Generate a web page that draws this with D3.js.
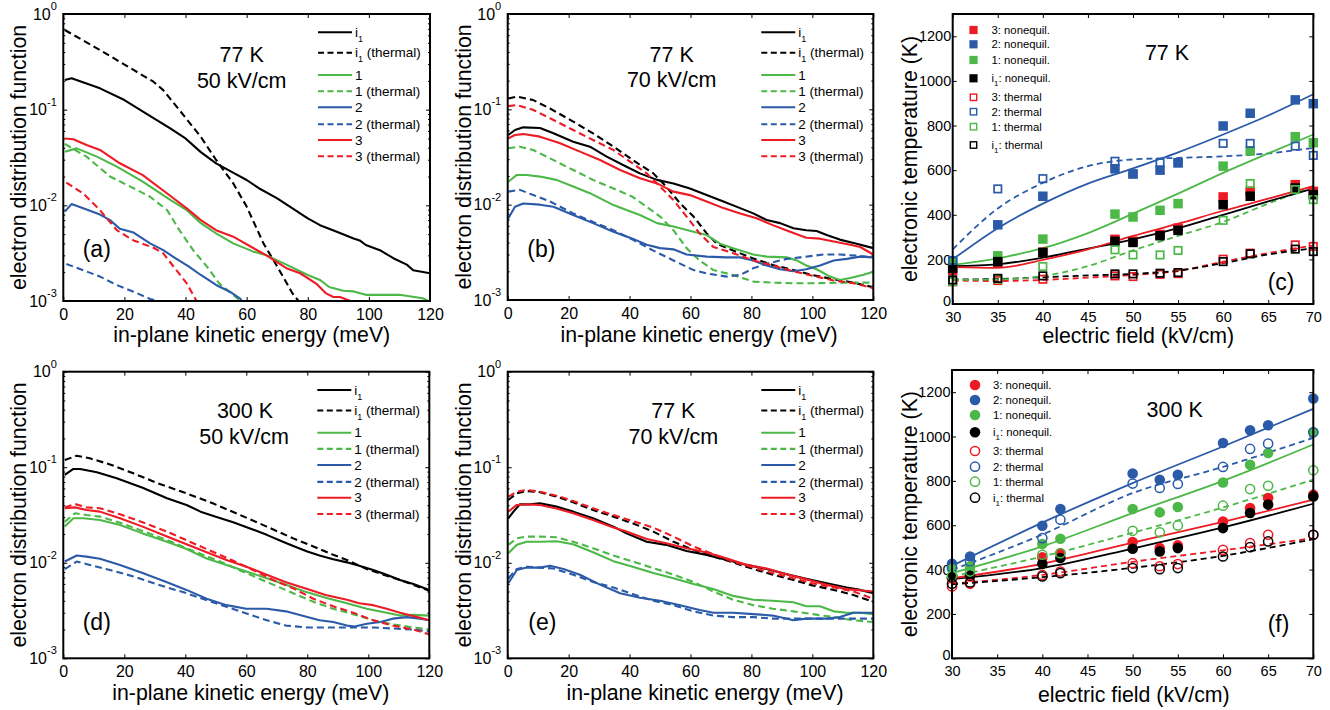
<!DOCTYPE html>
<html><head><meta charset="utf-8">
<script src="https://cdn.jsdelivr.net/npm/d3@7"></script>
<style>
body{margin:0;background:#fff}
svg{display:block}
text{font-family:"Liberation Sans",Arial,Helvetica,sans-serif;fill:#000}
</style></head>
<body><svg id="chart" width="1330" height="710"></svg>
<script>
// ---------------- DATA ----------------
const energyTicks = [0, 20, 40, 60, 80, 100, 120];
const fMajor = [1e-3, 1e-2, 1e-1, 1];
const fieldTicks = [30, 35, 40, 45, 50, 55, 60, 65, 70];
const tempTicks = [0, 200, 400, 600, 800, 1000, 1200];
const legendLabels = ["i1", "i1 (thermal)", "1", "1 (thermal)", "2", "2 (thermal)", "3", "3 (thermal)"];
const markerLabels = ["3: nonequil.", "2: nonequil.", "1: nonequil.", "i1: nonequil.", "3: thermal", "2: thermal", "1: thermal", "i1: thermal"];

// (a) 77 K, 50 kV/cm  [energy meV, distribution]
const a_i1 = [[0.5,0.204],[2.7,0.213],[12,0.167],[20,0.126],[27,0.0916],[35,0.0638],[40,0.050],[45,0.036],[50,0.0275],[56,0.0216],[60,0.0184],[64,0.0151],[70,0.0118],[75,0.0093],[80,0.0073],[84,0.0062],[89.5,0.0053],[95,0.0045],[97,0.0043],[99,0.00385],[103.6,0.0034],[108,0.0028],[112.4,0.0024],[114.5,0.0021],[120,0.00195]];
const a_i1_th = [[0.5,0.68],[12,0.42],[23,0.26],[29.5,0.196],[32.7,0.16],[38,0.099],[45,0.052],[50,0.0298],[55.6,0.017],[60,0.0097],[65.5,0.004],[70,0.0023],[75,0.0012],[77,0.001],[78,0.0009]];
const a_1 = [[0.5,0.0364],[4.4,0.0394],[11,0.0323],[17.5,0.0254],[26,0.0177],[35,0.0114],[40.4,0.0089],[45,0.0065],[50,0.0051],[55.6,0.004],[62,0.0033],[66.5,0.003],[73,0.0024],[80,0.00187],[84,0.00166],[87,0.0014],[91.6,0.00128],[95,0.00126],[99,0.00116],[110,0.00116],[117.6,0.00107],[119.5,0.001],[120,0.00098]];
const a_1_th = [[0.5,0.0438],[7.6,0.0323],[15.3,0.02],[23,0.0151],[28.4,0.0123],[34,0.0089],[38,0.0055],[42.5,0.0034],[47,0.00229],[51,0.00153],[55.6,0.00116],[58,0.001],[58.5,0.00095]];
const a_2 = [[0.5,0.0086],[2.7,0.0103],[6.5,0.0093],[12,0.008],[15.3,0.007],[18.5,0.0057],[23,0.0052],[28.4,0.004],[32.7,0.0034],[36,0.0029],[41,0.0023],[45,0.00187],[50,0.00147],[54.5,0.00125],[58,0.00105],[58.4,0.001],[59,0.00095]];
const a_2_th = [[1,0.00244],[6.5,0.0021],[12,0.0018],[17.5,0.00147],[23,0.00125],[28.4,0.00105],[31,0.001],[32,0.00095]];
const a_3 = [[0.5,0.050],[3.3,0.049],[7.6,0.0427],[12,0.0379],[18.5,0.0275],[26,0.0207],[34,0.0133],[40.4,0.0093],[45,0.007],[50,0.0055],[55.6,0.0047],[62,0.0036],[66.5,0.003],[73,0.0022],[77.5,0.00195],[83,0.0015],[86,0.0012],[88.4,0.0011],[90.5,0.0011],[94,0.001],[95,0.00095]];
const a_3_th = [[1,0.0173],[6.5,0.0133],[12,0.0089],[17.5,0.0055],[23,0.0043],[29.5,0.0036],[32.7,0.00315],[37,0.0021],[40.4,0.00153],[43.6,0.001],[44,0.00095]];

// (b) 77 K, 70 kV/cm
const b_i1 = [[0.2,0.0538],[2.4,0.0607],[5.1,0.0647],[10.6,0.0636],[15,0.056],[21.5,0.0458],[27,0.0406],[32.5,0.0319],[39,0.025],[43.4,0.0213],[49,0.0182],[54.4,0.0167],[59.8,0.0148],[65.3,0.0126],[70.8,0.0108],[76.3,0.0092],[80.6,0.0081],[85,0.0069],[89.4,0.0064],[93.8,0.00565],[98,0.0054],[101.4,0.0053],[104.7,0.0048],[109,0.0043],[114.5,0.0039],[120,0.0035]];
const b_i1_th = [[0.2,0.13],[3,0.136],[8.4,0.125],[13.9,0.102],[21.5,0.0743],[28,0.056],[34.7,0.0406],[41,0.0294],[47.8,0.0213],[52,0.0155],[56.6,0.0103],[61,0.0075],[65.3,0.005],[68.6,0.0039],[74,0.0033],[80.6,0.00273],[87,0.00233],[93.8,0.00206],[100,0.00183],[107,0.00165],[113.5,0.00152],[120,0.00136]];
const b_1 = [[0.2,0.0174],[3,0.0205],[6.2,0.0205],[10.6,0.0197],[16,0.0182],[21.5,0.0155],[27,0.0132],[34.7,0.0099],[39,0.0088],[43.4,0.0078],[49,0.0064],[54.4,0.0059],[61,0.0052],[65.3,0.0048],[69.7,0.0039],[74,0.0035],[80.6,0.003],[85,0.00285],[91.6,0.0028],[94.9,0.0026],[98,0.0023],[101.4,0.0021],[105.8,0.00176],[109,0.00162],[112.4,0.0017],[116.8,0.00184],[120,0.00198]];
const b_1_th = [[0.2,0.039],[4,0.0406],[8.4,0.0374],[13.9,0.0306],[21.5,0.0231],[28,0.0182],[34.7,0.0148],[41,0.0121],[45.6,0.0095],[50,0.0075],[54.4,0.0054],[58.7,0.0035],[63,0.0026],[67.5,0.00206],[74,0.00183],[80.6,0.00156],[87,0.00152],[93.8,0.0015],[100,0.0015],[109,0.00152],[120,0.00152]];
const b_2 = [[0.2,0.0072],[2.4,0.0095],[5.1,0.0103],[10.6,0.01],[15,0.0095],[21.5,0.0078],[28,0.0064],[34.7,0.0052],[41,0.0044],[45.6,0.0038],[50,0.0035],[54.4,0.0034],[58.7,0.003],[65.3,0.00285],[71.9,0.0028],[76.3,0.0028],[80.6,0.0026],[85,0.0023],[89.4,0.0021],[93.8,0.002],[98,0.0021],[102.5,0.0023],[107,0.0026],[111.3,0.0027],[115.7,0.00285],[120,0.0028]];
const b_2_th = [[0.2,0.0137],[4,0.0143],[8.4,0.0126],[13.9,0.0108],[21.5,0.0081],[28,0.0066],[34.7,0.0054],[41,0.0043],[47.8,0.0033],[54.4,0.0026],[61,0.00206],[65.3,0.0019],[71.9,0.00176],[76.3,0.00183],[80.6,0.00215],[85,0.0024],[91.6,0.0027],[96,0.0028],[103.6,0.003],[109,0.003],[115.7,0.0029],[120,0.0028]];
const b_3 = [[0.2,0.0496],[2.4,0.0538],[5.1,0.055],[10.6,0.0517],[17.2,0.044],[23.7,0.036],[30.3,0.0294],[36.9,0.0231],[43.4,0.0189],[49,0.0167],[54.4,0.0137],[59.8,0.0126],[65.3,0.0108],[70.8,0.0092],[76.3,0.0081],[81.7,0.0072],[87,0.0061],[92.7,0.0052],[98,0.0045],[102.5,0.0044],[107,0.0041],[112.4,0.0038],[115.7,0.0036],[120,0.003]];
const b_3_th = [[0.2,0.108],[3,0.111],[8.4,0.0985],[13.9,0.0805],[21.5,0.0607],[28,0.0477],[34.7,0.0374],[41,0.0271],[45.6,0.0213],[50,0.0155],[54.4,0.0112],[58.7,0.0075],[63,0.005],[67.5,0.0036],[74,0.0031],[80.6,0.0026],[87,0.0023],[93.8,0.002],[100,0.0018],[107,0.0016],[113.5,0.0015],[120,0.00133]];

// (d) 300 K, 50 kV/cm
const d_i1 = [[0.5,0.083],[3.3,0.096],[5.5,0.096],[11,0.0885],[17.5,0.0765],[26,0.061],[34,0.0473],[40.4,0.0403],[45,0.0343],[50,0.0304],[55.7,0.0265],[61,0.023],[66.7,0.0196],[72,0.0166],[75.4,0.015],[80,0.0131],[84,0.0119],[88.5,0.0109],[93,0.0101],[97,0.0093],[101.6,0.0084],[106,0.0075],[110.4,0.0066],[114.8,0.006],[120,0.0052]];
const d_i1_th = [[0.5,0.119],[4.4,0.132],[8.7,0.124],[15.3,0.107],[23,0.0863],[31,0.0679],[40.4,0.0533],[49,0.0419],[58,0.0316],[66.7,0.0239],[75.4,0.018],[82,0.0148],[88.5,0.0121],[93,0.0107],[99.5,0.0086],[105,0.0075],[110.4,0.0066],[120,0.0051]];
const d_1 = [[0.5,0.0239],[3.3,0.0292],[6.6,0.0292],[12,0.028],[18.6,0.0249],[26,0.0203],[34,0.0166],[40.4,0.0139],[47,0.0111],[53.5,0.0095],[60,0.0081],[66.7,0.0069],[73,0.0059],[80,0.0049],[86,0.0043],[93,0.00377],[99.5,0.0033],[106,0.003],[110.4,0.0028],[114.8,0.00285],[120,0.0028]];
const d_1_th = [[0.5,0.0269],[3.8,0.033],[7.6,0.0316],[12,0.0304],[18.6,0.0263],[26,0.0215],[34,0.0173],[42.6,0.0133],[51.4,0.0103],[60,0.0078],[68.8,0.0059],[75.4,0.0048],[82,0.0039],[88.5,0.0033],[95,0.0029],[101.6,0.0025],[108,0.00227],[114.8,0.0021],[120,0.002]];
const d_2 = [[0.5,0.0103],[4.4,0.0119],[7.6,0.0116],[12,0.011],[18.6,0.0095],[26,0.0078],[34,0.00625],[40.4,0.0052],[47,0.0042],[53.5,0.0036],[60,0.0033],[66.7,0.0033],[73,0.0031],[80,0.0027],[84,0.0025],[88.5,0.0024],[93,0.0022],[95.6,0.00215],[99.5,0.0023],[104,0.0024],[108,0.0026],[112.6,0.0027],[117,0.0026],[120,0.0025]];
const d_2_th = [[0.5,0.0086],[4.4,0.0103],[8.7,0.0095],[15.3,0.0084],[23,0.0072],[31,0.0059],[40.4,0.0048],[49,0.00386],[58,0.0031],[66.7,0.0025],[73,0.0022],[80,0.0021],[88.5,0.0021],[95,0.0021],[101.6,0.0021],[108,0.00205],[114.8,0.002],[120,0.0019]];
const d_3 = [[0.5,0.0372],[3.8,0.038],[7.6,0.0357],[12,0.0343],[18.6,0.0292],[26,0.0239],[34,0.0188],[40.4,0.0156],[47,0.0129],[53.5,0.0107],[60,0.0091],[66.7,0.0075],[73,0.00625],[80,0.0053],[86,0.0046],[93,0.0041],[97,0.00377],[101.6,0.0036],[106,0.0033],[110.4,0.003],[116,0.0027],[120,0.0025]];
const d_3_th = [[0.5,0.038],[3.8,0.0412],[7.6,0.038],[12,0.0372],[18.6,0.0322],[26,0.0265],[34,0.0212],[42.6,0.016],[51.4,0.0121],[60,0.0091],[68.8,0.0066],[75.4,0.0054],[82,0.0042],[88.5,0.0035],[95,0.003],[101.6,0.0025],[108,0.0022],[114.8,0.002],[120,0.00178]];

// (e) 77 K, 70 kV/cm
const e_i1 = [[0.2,0.0292],[1.9,0.0343],[4,0.0409],[7.3,0.0409],[10.6,0.0419],[16,0.0387],[21.5,0.0343],[28,0.0292],[34.7,0.0239],[39,0.0203],[45.6,0.0166],[52,0.0154],[58.7,0.0133],[65.3,0.0121],[72,0.0107],[78.5,0.0095],[85,0.0086],[91.6,0.0076],[98,0.0068],[104.7,0.0061],[111.3,0.0055],[115.7,0.0052],[120,0.0048]];
const e_i1_th = [[0.2,0.0454],[3,0.0533],[6.2,0.0564],[10.6,0.0548],[16,0.0492],[21.5,0.043],[28,0.0357],[34.7,0.0304],[41,0.0259],[47.8,0.0212],[54.4,0.0166],[61,0.0136],[67.5,0.0116],[74,0.0101],[80.6,0.0086],[87,0.0075],[93.8,0.0066],[100,0.0058],[107,0.0052],[113.5,0.0046],[120,0.0039]];
const e_1 = [[0.2,0.0126],[3,0.0154],[6.2,0.0166],[10.6,0.0166],[16,0.0168],[21.5,0.0156],[28,0.0129],[34.7,0.0104],[41,0.0091],[47.8,0.0078],[54.4,0.0069],[61,0.006],[67.5,0.0053],[74,0.0045],[80.6,0.0041],[87,0.004],[93.8,0.00386],[98,0.0035],[102.5,0.0035],[107,0.0031],[111.3,0.003],[115.7,0.003],[120,0.0029]];
const e_1_th = [[0.2,0.0154],[3,0.018],[6.2,0.0188],[10.6,0.0188],[16,0.0185],[21.5,0.0166],[28,0.0142],[34.7,0.0119],[41,0.0103],[47.8,0.0088],[54.4,0.0075],[61,0.0063],[67.5,0.005],[74,0.0041],[80.6,0.0036],[87,0.0033],[93.8,0.0031],[100,0.0029],[107,0.0027],[113.5,0.0025],[120,0.0024]];
const e_2 = [[0.2,0.0061],[3,0.0084],[6.2,0.0089],[10.6,0.0089],[13.9,0.0093],[18.3,0.0086],[23.7,0.0075],[30.3,0.0059],[36.9,0.0048],[43.4,0.0043],[50,0.004],[56.6,0.0036],[63,0.0032],[67.5,0.003],[74,0.003],[80.6,0.0029],[87,0.0028],[93.8,0.0025],[98,0.0026],[104.7,0.0026],[109,0.0027],[113.5,0.003],[120,0.003]];
const e_2_th = [[0.2,0.0069],[3,0.0086],[6.2,0.0091],[10.6,0.0089],[15,0.0087],[21.5,0.0075],[28,0.0063],[34.7,0.0055],[41,0.0047],[47.8,0.004],[54.4,0.0036],[61,0.0031],[67.5,0.0028],[74,0.0027],[80.6,0.0027],[87,0.0026],[93.8,0.0026],[100,0.0026],[107,0.0026],[113.5,0.0026],[120,0.0026]];
const e_3 = [[0.2,0.0343],[3,0.0403],[6.2,0.0409],[10.6,0.0403],[16,0.037],[21.5,0.033],[28,0.028],[34.7,0.0234],[39,0.0212],[45.6,0.0177],[52,0.016],[58.7,0.0142],[65.3,0.0128],[72,0.0111],[78.5,0.0095],[85,0.0087],[91.6,0.0076],[98,0.0067],[104.7,0.0059],[111.3,0.0053],[120,0.005]];
const e_3_th = [[0.2,0.0492],[3,0.0555],[6.2,0.0578],[10.6,0.0555],[16,0.0504],[21.5,0.0443],[28,0.0372],[34.7,0.0316],[41,0.0274],[47.8,0.0233],[54.4,0.0188],[61,0.0148],[67.5,0.0123],[74,0.0103],[80.6,0.0089],[87,0.0078],[93.8,0.0069],[100,0.0061],[107,0.0055],[113.5,0.005],[120,0.0042]];

// (c) 77 K electronic temperature (K) vs field (kV/cm)
const fields77 = [30, 35, 40, 48, 50, 53, 55, 60, 63, 68, 70];
const c_neq3  = [150, 183, 232, 290, 282, 312, 340, 480, 505, 535, 505];
const c_neq2  = [190, 355, 483, 606, 583, 600, 633, 798, 855, 915, 898];
const c_neq1  = [183, 216, 291, 403, 390, 420, 450, 618, 686, 750, 723];
const c_neqi1 = [160, 190, 231, 281, 276, 306, 330, 445, 483, 520, 490];
const c_th3   = [100, 105, 111, 126, 123, 133, 136, 201, 228, 265, 258];
const c_th2   = [195, 516, 562, 640, 583, 633, 633, 720, 720, 708, 666];
const c_th1   = [100, 112, 168, 243, 220, 220, 240, 375, 540, 513, 468];
const c_thi1  = [108, 115, 126, 135, 135, 138, 141, 190, 225, 246, 235];
const fitFields77 = [30, 35, 40, 45, 50, 55, 60, 65, 70];
const c_fit3   = [165, 162, 198, 245, 305, 360, 418, 472, 528];
const c_fit2   = [200, 340, 450, 540, 608, 680, 760, 845, 940];
const c_fit1   = [175, 205, 250, 318, 405, 495, 588, 675, 760];
const c_fiti1  = [170, 178, 208, 248, 290, 340, 400, 460, 518];
const c_fit3t  = [105, 103, 108, 118, 130, 148, 190, 228, 262];
const c_fit2t  = [245, 428, 543, 618, 648, 655, 662, 675, 700];
const c_fit1t  = [108, 110, 125, 170, 240, 305, 368, 450, 525];
const c_fiti1t = [110, 112, 120, 128, 135, 150, 183, 222, 250];

// (f) 300 K
const fields300 = [30, 32, 40, 42, 50, 53, 55, 60, 63, 65, 70];
const f_neq3  = [361, 369, 455, 474, 524, 497, 509, 617, 678, 723, 738];
const f_neq2  = [426, 459, 598, 673, 833, 805, 828, 971, 1028, 1051, 1171];
const f_neq1  = [402, 414, 515, 539, 673, 658, 682, 793, 873, 926, 1019];
const f_neqi1 = [366, 372, 426, 452, 494, 482, 497, 587, 655, 693, 730];
const f_th3   = [324, 336, 376, 391, 429, 415, 425, 489, 520, 557, 557];
const f_th2   = [411, 437, 542, 625, 788, 768, 786, 863, 944, 968, 1019];
const f_th1   = [372, 391, 467, 474, 575, 568, 599, 688, 763, 778, 848];
const f_thi1  = [336, 342, 369, 384, 407, 402, 407, 459, 501, 527, 557];
const fitFields300 = [30, 40, 50, 60, 70];
const f_fit3   = [361, 426, 522, 615, 715];
const f_fit2   = [417, 612, 790, 955, 1125];
const f_fit1   = [384, 505, 655, 800, 964];
const f_fiti1  = [357, 407, 495, 590, 697];
const f_fit3t  = [336, 376, 435, 487, 542];
const f_fit2t  = [399, 558, 745, 863, 994];
const f_fit1t  = [369, 459, 566, 680, 806];
const f_fiti1t = [334, 366, 408, 462, 537];

// ---------------- STYLE / LAYOUT ----------------
const FONT = '"Liberation Sans", Arial, Helvetica, sans-serif';
const K = "#000000", G = "#4cb848", B = "#2b5ba8", R = "#ed1c24";
const DASH = "7,4";
const svg = d3.select("#chart");
const defs = svg.append("defs");

function axisG(g, axis, tx, ty, fs) {
  const s = g.append("g").attr("transform", `translate(${tx},${ty})`).call(axis);
  s.select(".domain").remove();
  s.attr("font-family", FONT);
  if (fs) s.attr("font-size", fs);
  s.selectAll("line").attr("stroke", "#000");
  return s;
}

function subLabel(sel, label, subSize, subDy) {
  if (label.startsWith("i1")) {
    sel.text("i");
    sel.append("tspan").attr("font-size", subSize).attr("dy", subDy).text("1");
    const rest = label.slice(2);
    if (rest.length) sel.append("tspan").attr("dy", -subDy).text(rest.replace(/^ /, "\u00a0"));
  } else sel.text(label);
}

function drawDist(p) {
  const x = d3.scaleLinear().domain([0, 120]).range([p.left, p.right]);
  const y = d3.scaleLog().domain([1e-3, 1]).range([p.bottom, p.top]);
  const g = svg.append("g");
  defs.append("clipPath").attr("id", "clip" + p.id).append("rect")
    .attr("x", p.left).attr("y", p.top).attr("width", p.right - p.left).attr("height", p.bottom - p.top);
  const minors = [];
  for (let e = -3; e < 0; e++) for (let m = 2; m <= 9; m++) minors.push(m * Math.pow(10, e));

  axisG(g, d3.axisBottom(x).tickValues(energyTicks).tickSizeInner(-4).tickSizeOuter(0).tickPadding(7.6).tickFormat(d3.format("d")), 0, p.bottom, 16);
  axisG(g, d3.axisTop(x).tickValues(energyTicks).tickSizeInner(-4).tickSizeOuter(0).tickFormat(""), 0, p.top);
  axisG(g, d3.axisLeft(y).tickValues(fMajor).tickSizeInner(-4).tickSizeOuter(0).tickFormat(""), p.left, 0);
  axisG(g, d3.axisRight(y).tickValues(fMajor).tickSizeInner(-4).tickSizeOuter(0).tickFormat(""), p.right, 0);
  axisG(g, d3.axisLeft(y).tickValues(minors).tickSizeInner(-2).tickSizeOuter(0).tickFormat(""), p.left, 0);
  axisG(g, d3.axisRight(y).tickValues(minors).tickSizeInner(-2).tickSizeOuter(0).tickFormat(""), p.right, 0);

  fMajor.forEach(v => {
    const t = g.append("text").attr("x", p.left - 6.5).attr("y", y(v) + 5.5)
      .attr("text-anchor", "end").attr("font-size", 16).text("10");
    t.append("tspan").attr("font-size", 11).attr("dy", -9.5).text(String(Math.round(Math.log10(v))));
  });

  const line = d3.line().x(d => x(d[0])).y(d => y(d[1]));
  const lg = g.append("g").attr("clip-path", `url(#clip${p.id})`);
  p.series.forEach(s => {
    lg.append("path").attr("d", line(s.data)).attr("fill", "none")
      .attr("stroke", s.color).attr("stroke-width", 2.1)
      .attr("stroke-dasharray", s.dash ? DASH : null)
      .attr("stroke-linejoin", "round");
  });

  g.append("rect").attr("x", p.left).attr("y", p.top).attr("width", p.right - p.left)
    .attr("height", p.bottom - p.top).attr("fill", "none").attr("stroke", "#000").attr("stroke-width", 2);

  const rows = [18.3, 38.8, 61, 77.2, 93.3, 110.2, 126, 142.3];
  p.series.forEach((s, i) => {
    const ry = p.top + rows[i];
    g.append("line").attr("x1", p.right - 112).attr("x2", p.right - 78).attr("y1", ry).attr("y2", ry)
      .attr("stroke", s.color).attr("stroke-width", 2.1).attr("stroke-dasharray", s.dash ? "6,3.5" : null);
    const t = g.append("text").attr("x", p.right - 75).attr("y", ry + 4.6).attr("font-size", 13.5);
    subLabel(t, legendLabels[i], 9, 5);
  });

  p.notes.forEach(n => g.append("text").attr("x", n.x).attr("y", n.y).attr("text-anchor", "middle")
    .attr("font-size", 21.5).text(n.t));
  g.append("text").attr("x", p.lab[0]).attr("y", p.lab[1]).attr("font-size", 23).text(p.label);
  g.append("text").attr("x", p.xt[0]).attr("y", p.xt[1]).attr("text-anchor", "middle")
    .attr("font-size", 21.3).text("in-plane kinetic energy (meV)");
  g.append("text").attr("transform", `translate(${p.left - 37},${(p.top + p.bottom) / 2}) rotate(-90)`)
    .attr("text-anchor", "middle").attr("font-size", 21.3).text("electron distribution function");
}

function drawTemp(p) {
  const x = d3.scaleLinear().domain([30, 70]).range([p.left, p.right]);
  const y = d3.scaleLinear().domain([0, 1300]).range([p.bottom, p.top]);
  const g = svg.append("g");
  axisG(g, d3.axisBottom(x).tickValues(fieldTicks).tickSizeInner(-4).tickSizeOuter(0).tickPadding(7.8).tickFormat(d3.format("d")), 0, p.bottom, 14.5);
  axisG(g, d3.axisTop(x).tickValues(fieldTicks).tickSizeInner(-4).tickSizeOuter(0).tickFormat(""), 0, p.top);
  const ly = axisG(g, d3.axisLeft(y).tickValues(tempTicks).tickSizeInner(-4).tickSizeOuter(0).tickPadding(1.5).tickFormat(d3.format("d")), p.left, 0, 14.5);
  ly.selectAll("text").filter(d => d === 0).attr("y", -3.5);
  axisG(g, d3.axisRight(y).tickValues(tempTicks).tickSizeInner(-4).tickSizeOuter(0).tickFormat(""), p.right, 0);

  const line = d3.line().curve(d3.curveMonotoneX).x(d => x(d[0])).y(d => y(d[1]));
  p.fits.forEach(f => {
    g.append("path").attr("d", line(p.fitX.map((v, i) => [v, f.v[i]]))).attr("fill", "none")
      .attr("stroke", f.c).attr("stroke-width", 1.8).attr("stroke-dasharray", f.dash ? "6,4" : null);
  });

  const mark = (sel, cx, cy, filled, color, big) => {
    if (p.shape === "square") {
      const s = filled ? (big ? 9.5 : 8.2) : (big ? 7.4 : 6.4);
      sel.append("rect").attr("x", cx - s / 2).attr("y", cy - s / 2).attr("width", s).attr("height", s)
        .attr("fill", filled ? color : "none").attr("stroke", filled ? "none" : color)
        .attr("stroke-width", filled ? 0 : (big ? 1.7 : 1.4));
    } else {
      const r = filled ? 5.3 : 4.6;
      sel.append("circle").attr("cx", cx).attr("cy", cy).attr("r", r)
        .attr("fill", filled ? color : "none").attr("stroke", filled ? "none" : color)
        .attr("stroke-width", filled ? 0 : 1.5);
    }
  };
  p.sets.forEach(st => {
    p.fields.forEach((fv, i) => mark(g, x(fv), y(st.v[i]), st.filled, st.c, true));
  });

  g.append("rect").attr("x", p.left).attr("y", p.top).attr("width", p.right - p.left)
    .attr("height", p.bottom - p.top).attr("fill", "none").attr("stroke", "#000").attr("stroke-width", 2);

  p.sets.forEach((st, i) => {
    const ry = p.top + p.rows[i];
    mark(g, p.lgX, ry, st.filled, st.c, false);
    const t = g.append("text").attr("x", p.lgX + 18).attr("y", ry + 4).attr("font-size", 11.3);
    subLabel(t, markerLabels[i], 8, 4);
  });

  g.append("text").attr("x", p.note.x).attr("y", p.note.y).attr("text-anchor", "middle").attr("font-size", 21.5).text(p.note.t);
  g.append("text").attr("x", p.lab[0]).attr("y", p.lab[1]).attr("font-size", 23).text(p.label);
  g.append("text").attr("x", p.xt[0]).attr("y", p.xt[1]).attr("text-anchor", "middle")
    .attr("font-size", 21.3).text("electric field (kV/cm)");
  g.append("text").attr("transform", `translate(${p.left - 35.5},${(p.top + p.bottom) / 2}) rotate(-90)`)
    .attr("text-anchor", "middle").attr("font-size", 21.3).text("electronic temperature (K)");
}

const ser = (i1, i1t, s1, s1t, s2, s2t, s3, s3t) => [
  {data: i1, color: K, dash: false}, {data: i1t, color: K, dash: true},
  {data: s1, color: G, dash: false}, {data: s1t, color: G, dash: true},
  {data: s2, color: B, dash: false}, {data: s2t, color: B, dash: true},
  {data: s3, color: R, dash: false}, {data: s3t, color: R, dash: true}];

drawDist({id: "a", left: 63.3, right: 430, top: 14, bottom: 301,
  series: ser(a_i1, a_i1_th, a_1, a_1_th, a_2, a_2_th, a_3, a_3_th),
  notes: [{x: 241.7, y: 61.7, t: "77 K"}, {x: 241.7, y: 88.3, t: "50 kV/cm"}],
  lab: [82.7, 256.7], label: "(a)", xt: [251.7, 341.5]});
drawDist({id: "b", left: 507.7, right: 873.3, top: 14, bottom: 300,
  series: ser(b_i1, b_i1_th, b_1, b_1_th, b_2, b_2_th, b_3, b_3_th),
  notes: [{x: 671.7, y: 61.7, t: "77 K"}, {x: 671.7, y: 87.3, t: "70 kV/cm"}],
  lab: [527.3, 256.7], label: "(b)", xt: [699, 341.5]});
drawDist({id: "d", left: 63.3, right: 429.3, top: 371.7, bottom: 658.3,
  series: ser(d_i1, d_i1_th, d_1, d_1_th, d_2, d_2_th, d_3, d_3_th),
  notes: [{x: 245, y: 417.7, t: "300 K"}, {x: 244, y: 444.3, t: "50 kV/cm"}],
  lab: [82.7, 630], label: "(d)", xt: [250.8, 700]});
drawDist({id: "e", left: 507.7, right: 873.3, top: 371.7, bottom: 658.3,
  series: ser(e_i1, e_i1_th, e_1, e_1_th, e_2, e_2_th, e_3, e_3_th),
  notes: [{x: 673.3, y: 417.7, t: "77 K"}, {x: 673.3, y: 444.3, t: "70 kV/cm"}],
  lab: [528.3, 630], label: "(e)", xt: [705, 700]});

drawTemp({left: 952.7, right: 1313.3, top: 14, bottom: 304, shape: "square",
  fields: fields77, fitX: fitFields77,
  fits: [{v: c_fit3t, c: R, dash: true}, {v: c_fiti1t, c: K, dash: true}, {v: c_fit1t, c: G, dash: true}, {v: c_fit2t, c: B, dash: true},
         {v: c_fiti1, c: K}, {v: c_fit3, c: R}, {v: c_fit1, c: G}, {v: c_fit2, c: B}],
  sets: [{v: c_neq3, c: R, filled: true}, {v: c_neq2, c: B, filled: true}, {v: c_neq1, c: G, filled: true}, {v: c_neqi1, c: K, filled: true},
         {v: c_th3, c: R, filled: false}, {v: c_th2, c: B, filled: false}, {v: c_th1, c: G, filled: false}, {v: c_thi1, c: K, filled: false}],
  rows: [16, 30.3, 46, 64.3, 83.3, 97.7, 112.7, 131], lgX: 973.5,
  note: {x: 1167, y: 60, t: "77 K"}, lab: [1267.7, 290], label: "(c)", xt: [1138.3, 343]});

drawTemp({left: 952, right: 1313.3, top: 370, bottom: 658.3, shape: "circle",
  fields: fields300, fitX: fitFields300,
  fits: [{v: f_fit3t, c: R, dash: true}, {v: f_fiti1t, c: K, dash: true}, {v: f_fit1t, c: G, dash: true}, {v: f_fit2t, c: B, dash: true},
         {v: f_fiti1, c: K}, {v: f_fit3, c: R}, {v: f_fit1, c: G}, {v: f_fit2, c: B}],
  sets: [{v: f_neq3, c: R, filled: true}, {v: f_neq2, c: B, filled: true}, {v: f_neq1, c: G, filled: true}, {v: f_neqi1, c: K, filled: true},
         {v: f_th3, c: R, filled: false}, {v: f_th2, c: B, filled: false}, {v: f_th1, c: G, filled: false}, {v: f_thi1, c: K, filled: false}],
  rows: [15, 30, 45, 62.3, 81, 96.7, 111.7, 127.7], lgX: 975,
  note: {x: 1174.7, y: 416.7, t: "300 K"}, lab: [1267.7, 631.7], label: "(f)", xt: [1133.8, 701.5]});
</script></body></html>
